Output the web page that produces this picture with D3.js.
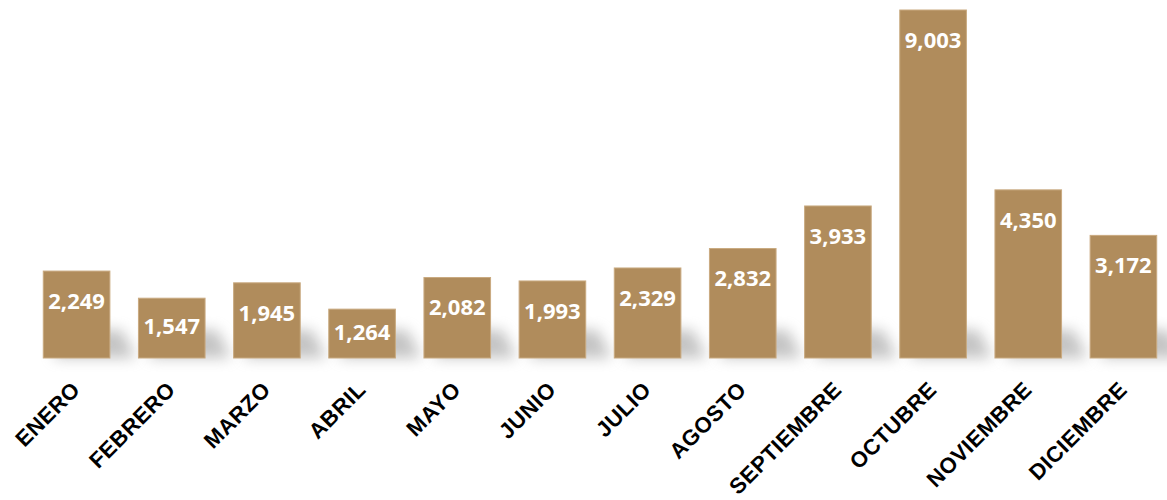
<!DOCTYPE html>
<html>
<head>
<meta charset="utf-8">
<script src="https://cdn.jsdelivr.net/npm/d3@7"></script>
<style>
  body { margin: 0; background: #fff; }
</style>
</head>
<body>
<div id="chart"></div>
<script>
// data
const months = ["ENERO", "FEBRERO", "MARZO", "ABRIL", "MAYO", "JUNIO", "JULIO",
    "AGOSTO", "SEPTIEMBRE", "OCTUBRE", "NOVIEMBRE", "DICIEMBRE"];
const totals = [2249, 1547, 1945, 1264, 2082, 1993, 2329, 2832, 3933, 9003, 4350, 3172];

const width = 1167, height = 500;
const baseY = 358, topY = 10;
const barColor = "#b08c5c";

const svg = d3.select("#chart")
    .append("svg")
    .attr("width", width)
    .attr("height", height);

const data = months.map((m, i) => ({ month: m, value: totals[i] }));

const x = d3.scaleBand()
    .domain(months)
    .range([29, 1171])
    .paddingInner(0.3)
    .paddingOuter(0.15);

const y = d3.scaleLinear()
    .domain([0, 9003])
    .range([baseY, topY]);

// soft shadow under bars
const defs = svg.append("defs");
defs.append("filter")
    .attr("id", "blur")
    .attr("x", "-50%").attr("y", "-50%")
    .attr("width", "200%").attr("height", "200%")
    .append("feGaussianBlur")
    .attr("stdDeviation", 7);

svg.append("g")
    .selectAll("path")
    .data(data)
    .join("path")
    .attr("d", d => {
        const l = x(d.month), r = l + x.bandwidth();
        return `M${l + 10},${baseY} L${r + 26},${baseY} L${r + 12},${baseY - 28} L${l + 20},${baseY - 28} Z`;
    })
    .attr("fill", "#8a8a8a")
    .attr("opacity", 0.5)
    .attr("filter", "url(#blur)");

// bars
svg.append("g")
    .selectAll("rect")
    .data(data)
    .join("rect")
    .attr("x", d => x(d.month))
    .attr("y", d => y(d.value))
    .attr("width", x.bandwidth())
    .attr("height", d => baseY - y(d.value))
    .attr("fill", barColor)
    .attr("stroke", "#c9aa80")
    .attr("stroke-width", 1);

// value labels
svg.append("g")
    .selectAll("text")
    .data(data)
    .join("text")
    .attr("x", d => x(d.month) + x.bandwidth() / 2)
    .attr("y", d => {
        const h = baseY - y(d.value);
        return y(d.value) + Math.min(30, h * 0.46);
    })
    .attr("dy", "0.36em")
    .attr("text-anchor", "middle")
    .attr("fill", "#fff")
    .style("font-family", "'Open Sans', sans-serif")
    .style("font-weight", "bold")
    .style("font-size", "22px")
    .text(d => d3.format(",")(d.value));

// month labels
svg.append("g")
    .selectAll("text")
    .data(data)
    .join("text")
    .attr("transform", d => `translate(${x(d.month) + x.bandwidth() / 2 + 5}, 391) rotate(-45)`)
    .attr("text-anchor", "end")
    .attr("fill", "#000")
    .style("font-family", "'Liberation Sans', Arial, sans-serif")
    .style("font-weight", "bold")
    .style("font-size", "22px")
    .style("letter-spacing", "0.5px")
    .text(d => d.month);
</script>
</body>
</html>
